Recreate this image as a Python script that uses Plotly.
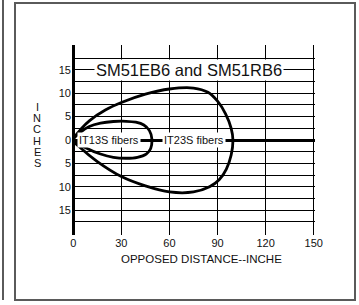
import plotly.graph_objects as go

# ---- data ----
big_x = [0, 5, 10, 20, 30, 45, 60, 75, 84, 90, 95, 98.5, 99.6, 98.5, 95.5, 91, 85, 75, 60, 45, 30, 15, 5, 0]
big_y = [0, 2.4, 4.1, 6.4, 8.0, 9.8, 10.9, 11.1, 10.2, 8.3, 5.6, 2.5, 0, -3.2, -6.2, -8.5, -10.0, -11.1, -11.1, -9.8, -7.8, -4.6, -1.8, 0]
small_x = [0, 5, 10, 17, 25, 33, 39, 44, 47.5, 49, 48.3, 45.5, 40, 33, 25, 17, 8, 0]
small_y = [0, 1.8, 2.9, 3.6, 3.95, 4.0, 3.8, 3.2, 2.0, 0.3, -1.8, -3.0, -3.7, -3.9, -3.7, -3.0, -1.7, 0]

x_ticks = [0, 30, 60, 90, 120, 150]
y_ticks = [-15, -10, -5, 0, 5, 10, 15]
y_ticktext = ["15", "10", "5", "0", "5", "10", "15"]
y_minor = [-17.5, -12.5, -7.5, -2.5, 2.5, 7.5, 12.5, 17.5]

title_text = "SM51EB6 and SM51RB6"
label_small = "IT13S fibers"
label_big = "IT23S fibers"
x_title = "OPPOSED DISTANCE--INCHE"
y_title = "INCHES"

FONT = "Liberation Sans, Arial, sans-serif"
W, H = 359, 305
L, R, T, B = 72, 44, 45, 70
pw = W - L - R
ph = H - T - B


def px2paper(px, py):
    return (px - L) / pw, (H - B - py) / ph


fig = go.Figure()
fig.add_trace(go.Scatter(x=big_x, y=big_y, mode="lines", line=dict(color="black", width=2.8, shape="spline", smoothing=0.8),
                         hoverinfo="skip", showlegend=False))
fig.add_trace(go.Scatter(x=small_x, y=small_y, mode="lines", line=dict(color="black", width=2.8, shape="spline", smoothing=0.8),
                         hoverinfo="skip", showlegend=False))

annotations = [
    dict(x=72.2, y=15, xref="x", yref="y", text=title_text, showarrow=False, bgcolor="white",
         font=dict(family=FONT, size=16.5, color="#111"), width=186, borderpad=1),
    dict(x=22, y=0, xref="x", yref="y", text=label_small, showarrow=False, bgcolor="white",
         font=dict(family=FONT, size=11, color="#111"), borderpad=1),
    dict(x=75.6, y=0, xref="x", yref="y", text=label_big, showarrow=False, bgcolor="white",
         font=dict(family=FONT, size=11, color="#111"), borderpad=1),
]
xp, yp = px2paper(201, 259)
annotations.append(dict(x=xp, y=yp, xref="paper", yref="paper", text=x_title, showarrow=False,
                        font=dict(family=FONT, size=11.5, color="#111"), xanchor="center", yanchor="middle"))
for i, ch in enumerate(y_title):
    xp, yp = px2paper(37, 107 + i * 11.2)
    annotations.append(dict(x=xp, y=yp, xref="paper", yref="paper", text=ch, showarrow=False,
                            font=dict(family=FONT, size=11, color="#111"), xanchor="center", yanchor="middle"))

# frame
shapes = []
x0, y0 = px2paper(15, 300)
x1, y1 = px2paper(355, 3)
shapes.append(dict(type="rect", xref="paper", yref="paper", x0=x0, y0=y0, x1=x1, y1=y1,
                   line=dict(color="#5a5a5a", width=2), layer="below"))
lx, ly0 = px2paper(3, 300)
_, ly1 = px2paper(3, -5)
shapes.append(dict(type="line", xref="paper", yref="paper", x0=lx, y0=ly0, x1=lx, y1=ly1,
                   line=dict(color="#5a5a5a", width=2)))

fig.update_layout(
    width=W, height=H, margin=dict(l=L, r=R, t=T, b=B),
    paper_bgcolor="white", plot_bgcolor="white",
    annotations=annotations, shapes=shapes, showlegend=False,
    xaxis=dict(range=[-0.8, 150.8], tickvals=x_ticks, ticktext=[str(v) for v in x_ticks],
               showgrid=True, gridcolor="black", gridwidth=1.2,
               zeroline=True, zerolinecolor="black", zerolinewidth=2.5,
               showline=False, ticks="", tickfont=dict(family=FONT, size=11, color="#111"), fixedrange=True),
    yaxis=dict(range=[-20.3, 20.3], tickvals=y_ticks, ticktext=y_ticktext,
               showgrid=True, gridcolor="black", gridwidth=1.2,
               minor=dict(tickvals=y_minor, showgrid=True, gridcolor="black", gridwidth=1.2),
               zeroline=True, zerolinecolor="black", zerolinewidth=2.5,
               showline=False, ticks="", tickfont=dict(family=FONT, size=11, color="#111"), fixedrange=True),
)

fig.write_html("out.html", config={"displayModeBar": False},
               post_script="document.body.style.margin='0px';document.body.style.overflow='hidden';")
